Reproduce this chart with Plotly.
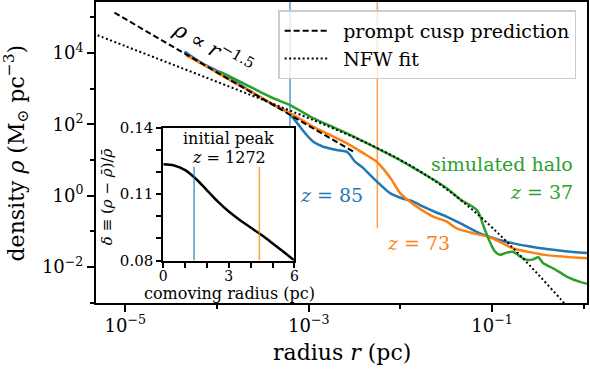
import plotly.graph_objects as go

# density profiles as log10(r / pc) and log10(rho / Msun pc^-3)
blue_logr = [-4.355, -4.25, -4.12, -4.0, -3.88, -3.78, -3.65, -3.5, -3.38, -3.24, -3.168, -3.095,
             -3.022, -2.95, -2.841, -2.695, -2.586, -2.55, -2.495, -2.405, -2.296, -2.2, -2.114,
             -2.0, -1.859, -1.75, -1.62, -1.495, -1.3, -1.132, -0.95, -0.769, -0.6, -0.405, -0.2, 0.035]
blue_logrho = [4.04, 3.86, 3.65, 3.50, 3.34, 3.17, 2.95, 2.72, 2.54, 2.36, 2.17, 1.93,
               1.70, 1.51, 1.37, 1.28, 1.23, 1.14, 0.95, 0.77, 0.49, 0.26, 0.07,
               -0.06, -0.17, -0.31, -0.46, -0.59, -0.84, -1.06, -1.22, -1.34, -1.42, -1.50, -1.56, -1.61]

orange_logr = [-4.34, -4.1, -3.9, -3.7, -3.5, -3.313, -3.131, -2.95, -2.767, -2.586, -2.405,
               -2.258, -2.149, -2.095, -2.004, -1.859, -1.641, -1.495, -1.386, -1.2, -1.023,
               -0.769, -0.405, 0.035]
orange_logrho = [3.94, 3.60, 3.30, 3.01, 2.72, 2.45, 2.21, 1.93, 1.70, 1.47, 1.19,
                 0.95, 0.63, 0.44, 0.07, -0.24, -0.59, -0.73, -0.92, -1.06, -1.17,
                 -1.48, -1.67, -1.76]

green_logr = [-3.97, -3.82, -3.676, -3.53, -3.385, -3.204, -3.08, -2.95, -2.77, -2.586, -2.42,
              -2.258, -2.0, -1.786, -1.64, -1.495, -1.35, -1.28, -1.22, -1.168, -1.13, -1.096,
              -1.041, -0.995, -0.968, -0.914, -0.875, -0.841, -0.769, -0.735, -0.696, -0.623,
              -0.551, -0.496, -0.442, -0.333, -0.187, -0.041, 0.049]
green_logrho = [3.475, 3.29, 3.10, 2.91, 2.73, 2.54, 2.36, 2.17, 1.96, 1.75, 1.54,
                1.33, 0.99, 0.67, 0.45, 0.205, -0.10, -0.21, -0.30, -0.40, -0.58, -0.84,
                -1.20, -1.46, -1.57, -1.66, -1.63, -1.60, -1.58, -1.63, -1.71, -1.80,
                -1.79, -1.73, -1.90, -2.04, -2.27, -2.42, -2.48]

# prompt cusp prediction (rho ~ r^-1.5), end points
cusp_r = [7.6e-6, 3.2e-3]
cusp_rho = [1.35e5, 16.0]

# NFW fit
nfw_logr = [-5.35, -5.0, -4.5, -4.0, -3.5, -3.0, -2.5, -2.25, -2.0, -1.75, -1.5, -1.25,
            -1.0, -0.75, -0.5, -0.25, -0.2]
nfw_logrho = [4.543, 4.193, 3.692, 3.191, 2.686, 2.172, 1.627, 1.329, 0.999, 0.623, 0.187,
              -0.320, -0.895, -1.530, -2.206, -2.913, -3.057]

# radii marked for the z=85 and z=73 snapshots
mark_r = {"85": 6.25e-4, "73": 5.6e-3}
mark_top = {"85": 3e5, "73": 3e5}
mark_bottom = {"85": 85.0, "73": 0.121}

# inset: initial peak at z=1272
inset_x = [0, 0.5, 1.0, 1.5, 2.0, 2.5, 3.0, 3.5, 4.0, 4.5, 5.0, 5.5, 6.0]
inset_delta = [0.1234, 0.1229, 0.1208, 0.1168, 0.1117, 0.1066, 0.1021, 0.0983, 0.0949,
               0.0915, 0.0878, 0.0840, 0.0800]
inset_mark_x = {"85": 1.41, "73": 4.40}
inset_mark_y = [0.08, 0.1223]

BLUE = "#1f77b4"
ORANGE = "#ff7f0e"
GREEN = "#2ca02c"
FONT = "DejaVu Serif"

fig = go.Figure()

for key, col in [("85", "rgba(31,119,180,0.75)"), ("73", "rgba(255,127,14,0.75)")]:
    fig.add_trace(go.Scatter(x=[mark_r[key], mark_r[key]], y=[mark_top[key], mark_bottom[key]],
                             mode="lines", line=dict(color=col, width=1.5), showlegend=False))

for lr, lrho, col in [(blue_logr, blue_logrho, BLUE), (orange_logr, orange_logrho, ORANGE),
                      (green_logr, green_logrho, GREEN)]:
    fig.add_trace(go.Scatter(x=[10 ** v for v in lr], y=[10 ** v for v in lrho], mode="lines",
                             line=dict(color=col, width=2.5, shape="spline", smoothing=0.6),
                             showlegend=False))

fig.add_trace(go.Scatter(x=cusp_r, y=cusp_rho, mode="lines",
                         name="\u2002prompt cusp prediction",
                         line=dict(color="black", width=2, dash="6px,3px")))
fig.add_trace(go.Scatter(x=[10 ** v for v in nfw_logr], y=[10 ** v for v in nfw_logrho],
                         mode="lines", name="\u2002NFW fit",
                         line=dict(color="black", width=2, dash="2px,2.5px", shape="spline")))

# inset
fig.add_trace(go.Scatter(x=inset_x, y=inset_delta, mode="lines", xaxis="x2", yaxis="y2",
                         line=dict(color="black", width=2.5, shape="spline"), showlegend=False))
for key, col in [("85", "rgba(31,119,180,0.75)"), ("73", "rgba(255,127,14,0.75)")]:
    fig.add_trace(go.Scatter(x=[inset_mark_x[key]] * 2, y=inset_mark_y, mode="lines",
                             xaxis="x2", yaxis="y2", line=dict(color=col, width=1.5),
                             showlegend=False))

ax_common = dict(showline=True, linecolor="black", linewidth=2, mirror=True, ticks="outside",
                 tickcolor="black", tickwidth=1.5, showgrid=False, zeroline=False,
                 automargin=False)

fig.update_layout(
    width=590, height=370,
    margin=dict(l=96, r=3, t=2, b=67),
    plot_bgcolor="white", paper_bgcolor="white",
    font=dict(family=FONT, size=18, color="black"),
    xaxis=dict(type="log", range=[-5.32, 0.035], ticklen=7, ticklabelstandoff=-2,
               tickvals=[1e-5, 1e-3, 1e-1],
               ticktext=["10<sup>−5</sup>", "10<sup>−3</sup>", "10<sup>−1</sup>"],
               minor=dict(tickvals=[1e-4, 1e-2, 1], ticklen=4, tickwidth=1.5, ticks="outside",
                          tickcolor="black"),
               **ax_common),
    yaxis=dict(type="log", range=[-3.013, 5.43], ticklen=7,
               tickvals=[1e-2, 1, 1e2, 1e4],
               ticktext=["10<sup>−2</sup>", "10<sup>0</sup>", "10<sup>2</sup>", "10<sup>4</sup>"],
               minor=dict(tickvals=[1e-3, 1e-1, 10, 1e3, 1e5], ticklen=4, tickwidth=1.5,
                          ticks="outside", tickcolor="black"),
               **ax_common),
    xaxis2=dict(domain=[0.137, 0.404], anchor="y2", range=[0, 6], ticklen=5,
                ticklabelstandoff=-3,
                tickvals=[0, 3, 6], ticktext=["0", "3", "6"],
                minor=dict(tickvals=[1, 2, 4, 5], ticklen=5, tickwidth=1.5, ticks="outside",
                           tickcolor="black"),
                tickfont=dict(size=14),
                **ax_common),
    yaxis2=dict(domain=[0.141, 0.583], anchor="x2", range=[0.08, 0.14], ticklen=5,
                tickvals=[0.08, 0.11, 0.14], ticktext=["0.08", "0.11", "0.14"],
                minor=dict(tickvals=[0.09, 0.10, 0.12, 0.13], ticklen=5, tickwidth=1.5,
                           ticks="outside", tickcolor="black"),
                tickfont=dict(size=15),
                **ax_common),
    legend=dict(x=0.371, y=0.972, xanchor="left", yanchor="top", itemwidth=44,
                bgcolor="rgba(255,255,255,0.8)", bordercolor="#cccccc", borderwidth=1.5,
                font=dict(size=19)),
    showlegend=True,
)

centred = dict(showarrow=False, xanchor="center", yanchor="middle")

# axis titles
fig.add_annotation(x=0.5, y=-0.163, xref="paper", yref="paper", text="radius <i>r</i> (pc)",
                   font=dict(size=22), **centred)
fig.add_annotation(x=-0.163, y=0.5, xref="paper", yref="paper",
                   text="density <i>ρ</i> (M<sub>⊙</sub> pc<sup>−3</sup>)",
                   textangle=-90, font=dict(size=22), **centred)
fig.add_annotation(x=0.271, y=0.031, xref="paper", yref="paper", text="comoving radius (pc)",
                   font=dict(size=16), **centred)
fig.add_annotation(x=0.0224, y=0.355, xref="paper", yref="paper",
                   text="<i>δ</i> ≡ (<i>ρ</i> − <i>ρ̄</i>)/<i>ρ̄</i>",
                   textangle=-90, font=dict(size=15), **centred)

# text labels in the panels
fig.add_annotation(x=-4.044, y=4.168, xref="x", yref="y", text="<i>ρ</i> ∝ <i>r</i><sup>−1.5</sup>",
                   textangle=30, font=dict(size=21), **centred)
fig.add_annotation(x=-2.757, y=0.017, xref="x", yref="y", text="<i>z</i> = 85",
                   font=dict(size=19, color=BLUE), **centred)
fig.add_annotation(x=-1.798, y=-1.33, xref="x", yref="y", text="<i>z</i> = 73",
                   font=dict(size=19, color=ORANGE), **centred)
fig.add_annotation(x=-0.096, y=0.886, xref="x", yref="y", text="simulated halo",
                   showarrow=False, xanchor="right", yanchor="middle",
                   font=dict(size=19, color=GREEN))
fig.add_annotation(x=-0.096, y=0.109, xref="x", yref="y", text="<i>z</i> = 37",
                   showarrow=False, xanchor="right", yanchor="middle",
                   font=dict(size=19, color=GREEN))
fig.add_annotation(x=3.0, y=0.135, xref="x2", yref="y2", text="initial peak",
                   font=dict(size=16), **centred)
fig.add_annotation(x=3.0, y=0.1265, xref="x2", yref="y2", text="<i>z</i> = 1272",
                   font=dict(size=16), **centred)

fig.write_html("out.html", config={"displayModeBar": False},
               post_script="document.body.style.margin='0';document.body.style.padding='0';")
